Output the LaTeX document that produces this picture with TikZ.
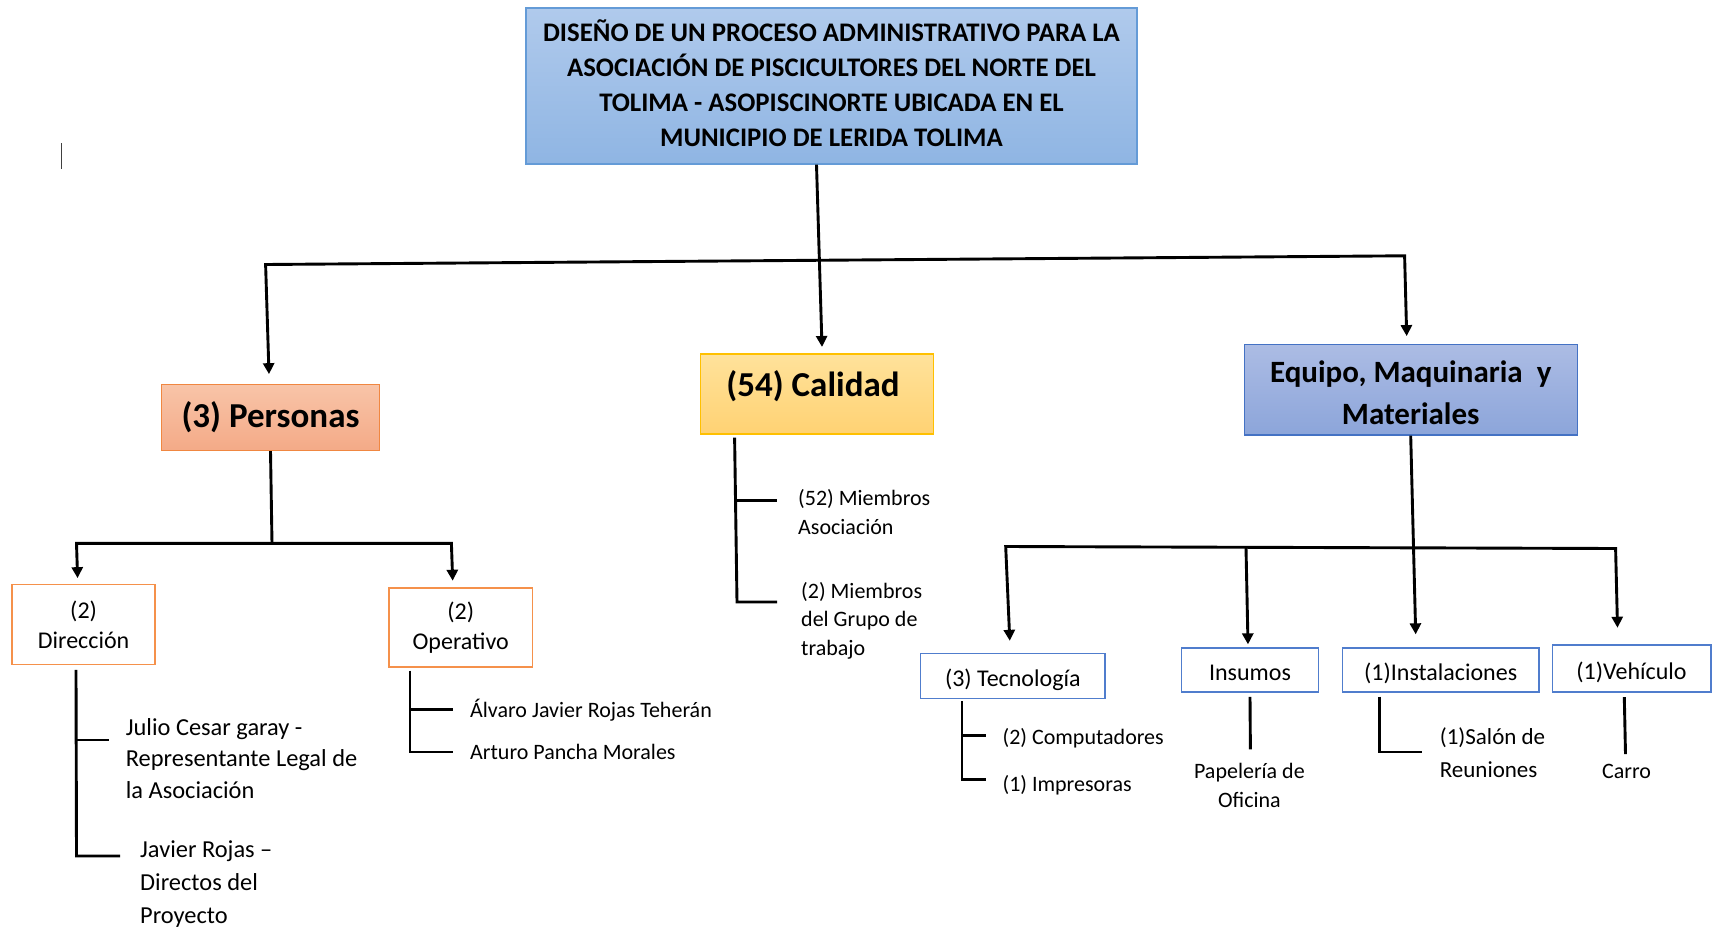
\documentclass[tikz,border=0pt]{standalone}
\usepackage{fontspec}
\setmainfont{Carlito}
\usetikzlibrary{arrows.meta,calc}
\definecolor{titletop}{RGB}{176,202,236}
\definecolor{titlebot}{RGB}{143,181,227}
\definecolor{titleline}{RGB}{100,155,215}
\definecolor{perstop}{RGB}{248,196,168}
\definecolor{persbot}{RGB}{244,170,135}
\definecolor{persline}{RGB}{240,135,65}
\definecolor{caltop}{RGB}{255,226,155}
\definecolor{calbot}{RGB}{255,210,115}
\definecolor{calline}{RGB}{255,192,0}
\definecolor{eqtop}{RGB}{172,188,228}
\definecolor{eqbot}{RGB}{140,165,218}
\definecolor{eqline}{RGB}{68,114,196}
\definecolor{orline}{RGB}{245,145,75}
\definecolor{blline}{RGB}{80,125,205}
\tikzset{
  conn/.style={line width=2.9pt, black, line join=miter},
  arr/.style={conn, -{Triangle[length=11pt,width=11pt]}},
  arr2/.style={conn, {Triangle[length=11pt,width=11pt]}-{Triangle[length=11pt,width=11pt]}},
  bigbox/.style={draw, line width=1.3pt, inner sep=0pt, align=center},
  subbox/.style={draw, line width=1.5pt, fill=white, inner sep=0pt, align=center, font=\fontsize{24}{30.5}\selectfont},
  lowtext/.style={text height=21.4pt, text depth=0pt},
  leaf/.style={inner sep=0pt, align=left, font=\fontsize{22}{29}\selectfont},
  leafc/.style={inner sep=0pt, align=center, font=\fontsize{22}{28.4}\selectfont},
}
\begin{document}
\begin{tikzpicture}[x=1pt,y=-1pt]
\useasboundingbox (0,0) rectangle (1714,929);

% cursor mark
\draw[line width=1.2pt, black!75] (61.2,143) -- (61.2,169.4);

% main boxes
\node[bigbox, draw=titleline, top color=titletop, bottom color=titlebot,
      minimum width=611pt, minimum height=156pt] (title) at (831.5,86) {};
\node[inner sep=0pt, align=center, font=\fontsize{26.8}{35}\selectfont\bfseries] (titletxt) at (831.5,83.5)
  {DISEÑO DE UN PROCESO ADMINISTRATIVO PARA LA\\
   ASOCIACIÓN DE PISCICULTORES DEL NORTE DEL\\
   TOLIMA - ASOPISCINORTE UBICADA EN EL\\
   MUNICIPIO DE LERIDA TOLIMA};

\node[bigbox, draw=persline, top color=perstop, bottom color=persbot,
      minimum width=217.5pt, minimum height=65.6pt,
      font=\fontsize{35}{40}\selectfont\bfseries] (personas) at (270.5,417.6) {(3) Personas};

\node[bigbox, draw=calline, top color=caltop, bottom color=calbot,
      minimum width=233pt, minimum height=80pt] (calidad) at (817,394) {};
\node[inner sep=0pt, font=\fontsize{35}{40}\selectfont\bfseries] (calidadtxt) at (813,386) {(54) Calidad};

\node[bigbox, draw=eqline, top color=eqtop, bottom color=eqbot,
      minimum width=333pt, minimum height=90.7pt] (equipo) at (1410.7,389.7) {};
\node[inner sep=0pt, align=center, font=\fontsize{31}{42}\selectfont\bfseries] (equipotxt) at (1410.7,393)
  {Equipo, Maquinaria~~y\\Materiales};

% top connectors
\coordinate (hl) at (265.6,264.5);
\coordinate (hr) at (1404.6,255.8);
\draw[arr] ([xshift=-15pt]title.south) -- ([xshift=5pt,yshift=6.4pt]calidad.north);
\draw[arr2] ([xshift=-1.5pt,yshift=10pt]personas.north) -- (hl) -- (hr) -- ([xshift=-4pt,yshift=7.6pt]equipo.north);

% Personas children
\node[subbox, draw=orline, minimum width=143pt, minimum height=80pt] (direccion) at (83.6,624.7) {(2)\\Dirección};
\node[subbox, draw=orline, minimum width=143.3pt, minimum height=78.8pt] (operativo) at (460.7,627.4) {(2)\\Operativo};
\coordinate (pj) at (272,543.3);
\coordinate (pl) at (76.5,543.3);
\coordinate (pr) at (451.4,543.3);
\draw[conn] (personas.south) -- (pj);
\draw[arr2] ([xshift=-6pt,yshift=5.8pt]direccion.north) -- (pl) -- (pr) -- ([xshift=-8pt,yshift=6.5pt]operativo.north);

% Direccion leaves
\node[leaf, anchor=west, font=\fontsize{24.4}{31.5}\selectfont] (julio) at (125.7,758.6)
  {Julio Cesar garay -\\Representante Legal de\\la Asociación};
\node[leaf, anchor=west, font=\fontsize{24.4}{33}\selectfont] (javier) at (140,884.2)
  {Javier Rojas –\\Directos del\\Proyecto};
\draw[conn] ([xshift=-7.6pt,yshift=-4.4pt]direccion.south) -- (76.5,856) -- ([xshift=-20pt]javier.west |- 0,856);
\draw[conn] (76.5,740) -- ([xshift=-17pt]julio.west |- 0,740);

% Operativo leaves
\node[leaf, anchor=west] (alvaro) at (470,710.5) {Álvaro Javier Rojas Teherán};
\node[leaf, anchor=west] (arturo) at (470,752) {Arturo Pancha Morales};
\draw[conn] ([xshift=-50.7pt,yshift=-3pt]operativo.south) -- (410,752) -- ([xshift=-17.5pt]arturo.west);
\draw[conn] (410,709.4) -- ([xshift=-17.5pt]alvaro.west |- 0,709.4);

% Calidad leaves
\node[leaf, anchor=west] (miem52) at (798,512) {(52) Miembros\\Asociación};
\node[leaf, anchor=west, font=\fontsize{22}{28.5}\selectfont] (miem2) at (801,620.5) {(2) Miembros\\del Grupo de\\trabajo};
\draw[conn] ([xshift=-82.4pt,yshift=-3pt]calidad.south) -- (737,602) -- ([xshift=-24pt]miem2.west |- 0,602);
\draw[conn] (736,500.6) -- ([xshift=-21pt]miem52.west |- 0,500.6);

% Equipo children
\node[subbox, lowtext, draw=blline, minimum width=184.7pt, minimum height=44.8pt] (tecno) at (1012.8,676) {(3) Tecnología};
\node[subbox, lowtext, draw=blline, minimum width=136.7pt, minimum height=43.8pt] (insumos) at (1250,670) {Insumos};
\node[subbox, lowtext, draw=blline, minimum width=196.7pt, minimum height=43.8pt] (instal) at (1440.7,670) {(1)Instalaciones};
\node[subbox, lowtext, draw=blline, minimum width=158.5pt, minimum height=47pt] (vehic) at (1631.5,668.5) {(1)Vehículo};

\coordinate (el) at (1005.7,546.5);
\coordinate (er) at (1615.6,548.5);
\coordinate (ei) at (1246,547.5);
\draw[arr] (equipo.south) -- ([xshift=-25pt,yshift=13pt]instal.north);
\draw[arr2] ([xshift=-3pt,yshift=12pt]tecno.north) -- (el) -- (er) -- ([xshift=-14pt,yshift=16.5pt]vehic.north);
\draw[arr] (ei) -- ([xshift=-2pt,yshift=3pt]insumos.north);

% Tecnologia leaves
\node[leaf, anchor=west] (compu) at (1002.4,737.9) {(2) Computadores};
\node[leaf, anchor=west] (impre) at (1002.4,784.9) {(1) Impresoras};
\draw[conn] ([xshift=-50.8pt,yshift=-2pt]tecno.south) -- (962,779.4) -- ([xshift=-16pt]impre.west |- 0,779.4);
\draw[conn] (962,735.7) -- ([xshift=-16pt]compu.west |- 0,735.7);

% Insumos leaf
\node[leafc] (papel) at (1249.4,785.5) {Papelería de\\Oficina};
\draw[conn] ([yshift=-4.3pt]insumos.south) -- ([xshift=1pt,yshift=14pt]papel.north);

% Instalaciones leaf
\node[leaf, anchor=west, font=\fontsize{23}{32.8}\selectfont] (salon) at (1439.6,752.5) {(1)Salón de\\Reuniones};
\draw[conn] ([xshift=-61.2pt,yshift=-4pt]instal.south) -- (1379.5,752) -- ([xshift=-17.6pt]salon.west |- 0,752);

% Vehiculo leaf
\node[leafc] (carro) at (1626.5,771.5) {Carro};
\draw[conn] ([xshift=-7.2pt,yshift=-4.3pt]vehic.south) -- ([xshift=-1pt,yshift=10pt]carro.north);
\end{tikzpicture}
\end{document}
